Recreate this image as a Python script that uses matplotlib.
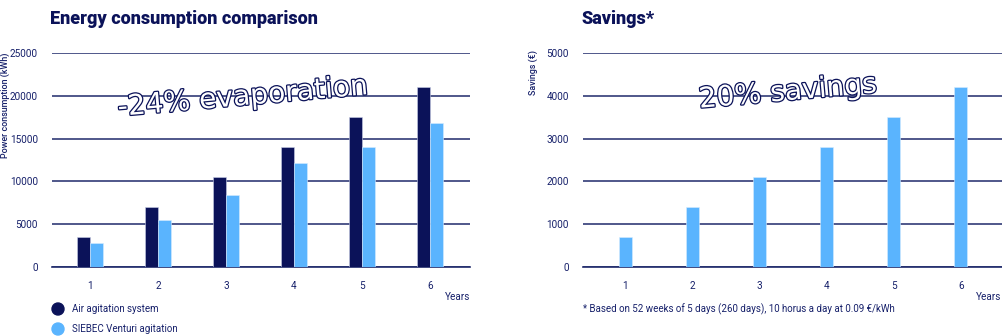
import matplotlib
matplotlib.use("Agg")
import matplotlib.pyplot as plt
import matplotlib.patheffects as pe
import numpy as np

plt.rcParams['font.family'] = ['Roboto', 'DejaVu Sans']

years = ["1", "2", "3", "4", "5", "6"]
air_agitation = [3500, 7000, 10500, 14000, 17500, 21000]
siebec_venturi = [2800, 5500, 8400, 12100, 14000, 16800]
savings = [700, 1400, 2100, 2800, 3500, 4200]
energy_ticks = [0, 5000, 10000, 15000, 20000, 25000]
savings_ticks = [0, 1000, 2000, 3000, 4000, 5000]

NAVY = "#0b1259"
LIGHT = "#5ab4fe"
LINE = "#1f2a6b"
TXT = "#16206a"

fig = plt.figure(figsize=(10.02, 3.36), dpi=100)
W, H = 1002, 336

def px_axes(x0, y0, x1, y1):
    return fig.add_axes([x0 / W, 1 - y1 / H, (x1 - x0) / W, (y1 - y0) / H])

def style(ax, ticks, xlim):
    ax.set_ylim(0, ticks[-1])
    ax.set_yticks(ticks)
    ax.set_yticklabels([str(t) for t in ticks])
    ax.set_xlim(*xlim)
    for s in ["top", "right", "left"]:
        ax.spines[s].set_visible(False)
    ax.spines["bottom"].set_color(LINE)
    ax.spines["bottom"].set_linewidth(1.2)
    ax.grid(axis="y", color=LINE, linewidth=1.1)
    ax.set_axisbelow(True)
    ax.tick_params(axis="both", length=0, labelsize=7.2, labelcolor=TXT)
    ax.tick_params(axis="y", pad=10)
    ax.tick_params(axis="x", pad=10)

x = np.arange(len(years))
bw = 0.187

# Left chart
ax1 = px_axes(52, 53, 470, 267)
ax1.bar(x - bw / 2, air_agitation, bw, color=NAVY, edgecolor="#c9cfe8", linewidth=0.4, zorder=3)
ax1.bar(x + bw / 2, siebec_venturi, bw, color=LIGHT, edgecolor="#d6ecff", linewidth=0.4, zorder=3)
ax1.set_xticks(x)
ax1.set_xticklabels(years)
style(ax1, energy_ticks, (-0.559, 5.588))

# Right chart
ax2 = px_axes(583, 53, 1002, 267)
ax2.bar(x, savings, 0.19, color=LIGHT, edgecolor="#d6ecff", linewidth=0.4, zorder=3)
ax2.set_xticks(x)
ax2.set_xticklabels(years)
style(ax2, savings_ticks, (-0.629, 5.613))

def ftext(px, py, s, **kw):
    return fig.text(px / W, 1 - py / H, s, **kw)

ftext(50, 19, "Energy consumption comparison", fontsize=13, fontweight="black",
      color=NAVY, va="center", ha="left")
ftext(582, 19, "Savings*", fontsize=13, fontweight="black",
      color=NAVY, va="center", ha="left")

ftext(5, 52, "Power consumption (kWh)", fontsize=6.4, fontweight="medium", rotation=90, color=TXT,
      ha="center", va="top")
ftext(533, 50, "Savings (€)", fontsize=6.4, fontweight="medium", rotation=90, color=TXT,
      ha="center", va="top")

ftext(470, 297, "Years", fontsize=7.2, color=TXT, ha="right", va="center")
ftext(1001, 297, "Years", fontsize=7.2, color=TXT, ha="right", va="center")

ftext(583, 309, "* Based on 52 weeks of 5 days (260 days), 10 horus a day at 0.09 €/kWh",
      fontsize=7, color=TXT, ha="left", va="center")

# Legend
for py, col, lab in [(309, NAVY, "Air agitation system"), (329, LIGHT, "SIEBEC Venturi agitation")]:
    fig.patches.append(matplotlib.patches.Ellipse((58 / W, 1 - py / H), 12 / W, 12 / H,
                                                  transform=fig.transFigure, color=col))
    ftext(72, py, lab, fontsize=7, color=TXT, ha="left", va="center")

# Outlined annotations
outline = [pe.withStroke(linewidth=1.8, foreground=NAVY)]
ftext(243, 97, "-24% evaporation", fontsize=20.3, color="white", rotation=5,
      family="DejaVu Sans", ha="center", va="center", path_effects=outline, zorder=10)
ftext(788, 92, "20% savings", fontsize=20.3, color="white", rotation=5,
      family="DejaVu Sans", ha="center", va="center", path_effects=outline, zorder=10)

fig.savefig("out.png", dpi=100)
